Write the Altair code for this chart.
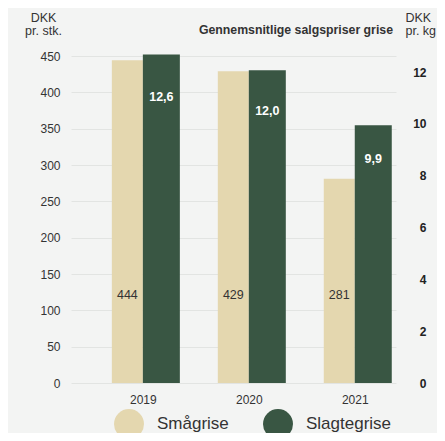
import altair as alt
import pandas as pd

years = [2019, 2020, 2021]
smaagrise = [444, 429, 281]
slagtegrise = [12.68, 12.07, 9.95]
smaa_labels = ["444", "429", "281"]
slagte_labels = ["12,6", "12,0", "9,9"]
series = ["Smågrise", "Slagtegrise"]
colors = ["#e4d7af", "#395643"]
left_ticks = [0, 50, 100, 150, 200, 250, 300, 350, 400, 450]
right_ticks = [0, 2, 4, 6, 8, 10, 12]

FONT = "Liberation Sans"
TXT = "#333333"

df_s = pd.DataFrame({"year": years, "value": smaagrise, "label": smaa_labels, "serie": series[0]})
df_g = pd.DataFrame({"year": years, "value": slagtegrise, "label": slagte_labels, "serie": series[1]})

x_enc = alt.X(
    "year:Q",
    scale=alt.Scale(domain=[2018.369, 2021.342], nice=False, zero=False),
    axis=alt.Axis(values=years, format="d", grid=False, ticks=False, domain=False,
                  labelFontSize=12, labelColor=TXT, labelFont=FONT, labelPadding=11, title=None),
)

color_enc = alt.Color(
    "serie:N",
    scale=alt.Scale(domain=series, range=colors),
    legend=alt.Legend(
        orient="none", legendX=43, legendY=353, direction="horizontal",
        symbolType="circle", symbolSize=900, symbolStrokeWidth=0, symbolOpacity=1,
        labelFontSize=17, labelFont=FONT, labelColor=TXT, labelOffset=13,
        columnPadding=34, title=None, padding=0, labelLimit=300,
    ),
)

left_scale = alt.Scale(domain=[0, 450], nice=False)
left_axis = alt.Axis(
    values=left_ticks, grid=True, gridColor="#e2e4e2", gridWidth=1, domain=False, ticks=False,
    labelFontSize=12, labelColor=TXT, labelFont=FONT, labelPadding=11,
    title=["DKK", "pr. stk."], titleAngle=0, titleAlign="center", titleBaseline="top",
    titleX=-28, titleY=-45, titleFontSize=12.5, titleFontWeight="normal", titleColor=TXT,
    titleFont=FONT, titleLineHeight=13,
)
right_scale = alt.Scale(domain=[0, 12.62], nice=False)
right_axis = alt.Axis(
    orient="right", values=right_ticks, grid=False, domain=False, ticks=False,
    labelFontSize=12, labelColor="#222222", labelFont=FONT, labelFontWeight="bold",
    labelAlign="right", labelPadding=30,
    title=["DKK", "pr. kg"], titleAngle=0, titleAlign="left", titleBaseline="top",
    titleX=9, titleY=-45, titleFontSize=12.5, titleFontWeight="normal", titleColor=TXT,
    titleFont=FONT, titleLineHeight=13,
)

beige_bar = alt.Chart(df_s).mark_bar(width=31, xOffset=-15.5, orient="vertical").encode(
    x=x_enc,
    y=alt.Y("value:Q", scale=left_scale, axis=left_axis, stack=False),
    color=color_enc,
)
beige_text = alt.Chart(df_s).transform_calculate(pos="121").mark_text(
    xOffset=-15.5, fontSize=12.5, font=FONT, color=TXT, baseline="middle", align="center"
).encode(
    x=x_enc,
    y=alt.Y("pos:Q", scale=left_scale, axis=left_axis),
    text="label:N",
)

green_bar = alt.Chart(df_g).mark_bar(width=37, xOffset=18.5, orient="vertical").encode(
    x=x_enc,
    y=alt.Y("value:Q", scale=right_scale, axis=right_axis, stack=False),
    color=color_enc,
)
green_text = alt.Chart(df_g).transform_calculate(pos="datum.value * 0.87").mark_text(
    xOffset=18.5, fontSize=12.5, font=FONT, fontWeight="bold", color="#ffffff",
    baseline="middle", align="center"
).encode(
    x=x_enc,
    y=alt.Y("pos:Q", scale=right_scale, axis=right_axis),
    text="label:N",
)

left = alt.layer(beige_bar, beige_text)
right = alt.layer(green_bar, green_text)

chart = alt.layer(left, right).resolve_scale(y="independent").properties(
    width=325,
    height=327,
    autosize=alt.AutoSizeParams(type="none"),
    padding={"left": 63, "top": 48, "right": 41, "bottom": 50},
    background="#f3f4f3",
    title=alt.TitleParams(
        "Gennemsnitlige salgspriser grise", anchor="end", frame="group",
        fontSize=12.3, font=FONT, fontWeight="bold", color=TXT, dx=-3, dy=25, offset=0,
    ),
).configure_view(stroke=None)

chart.save("out.html", embed_options={"renderer": "svg", "actions": False})
